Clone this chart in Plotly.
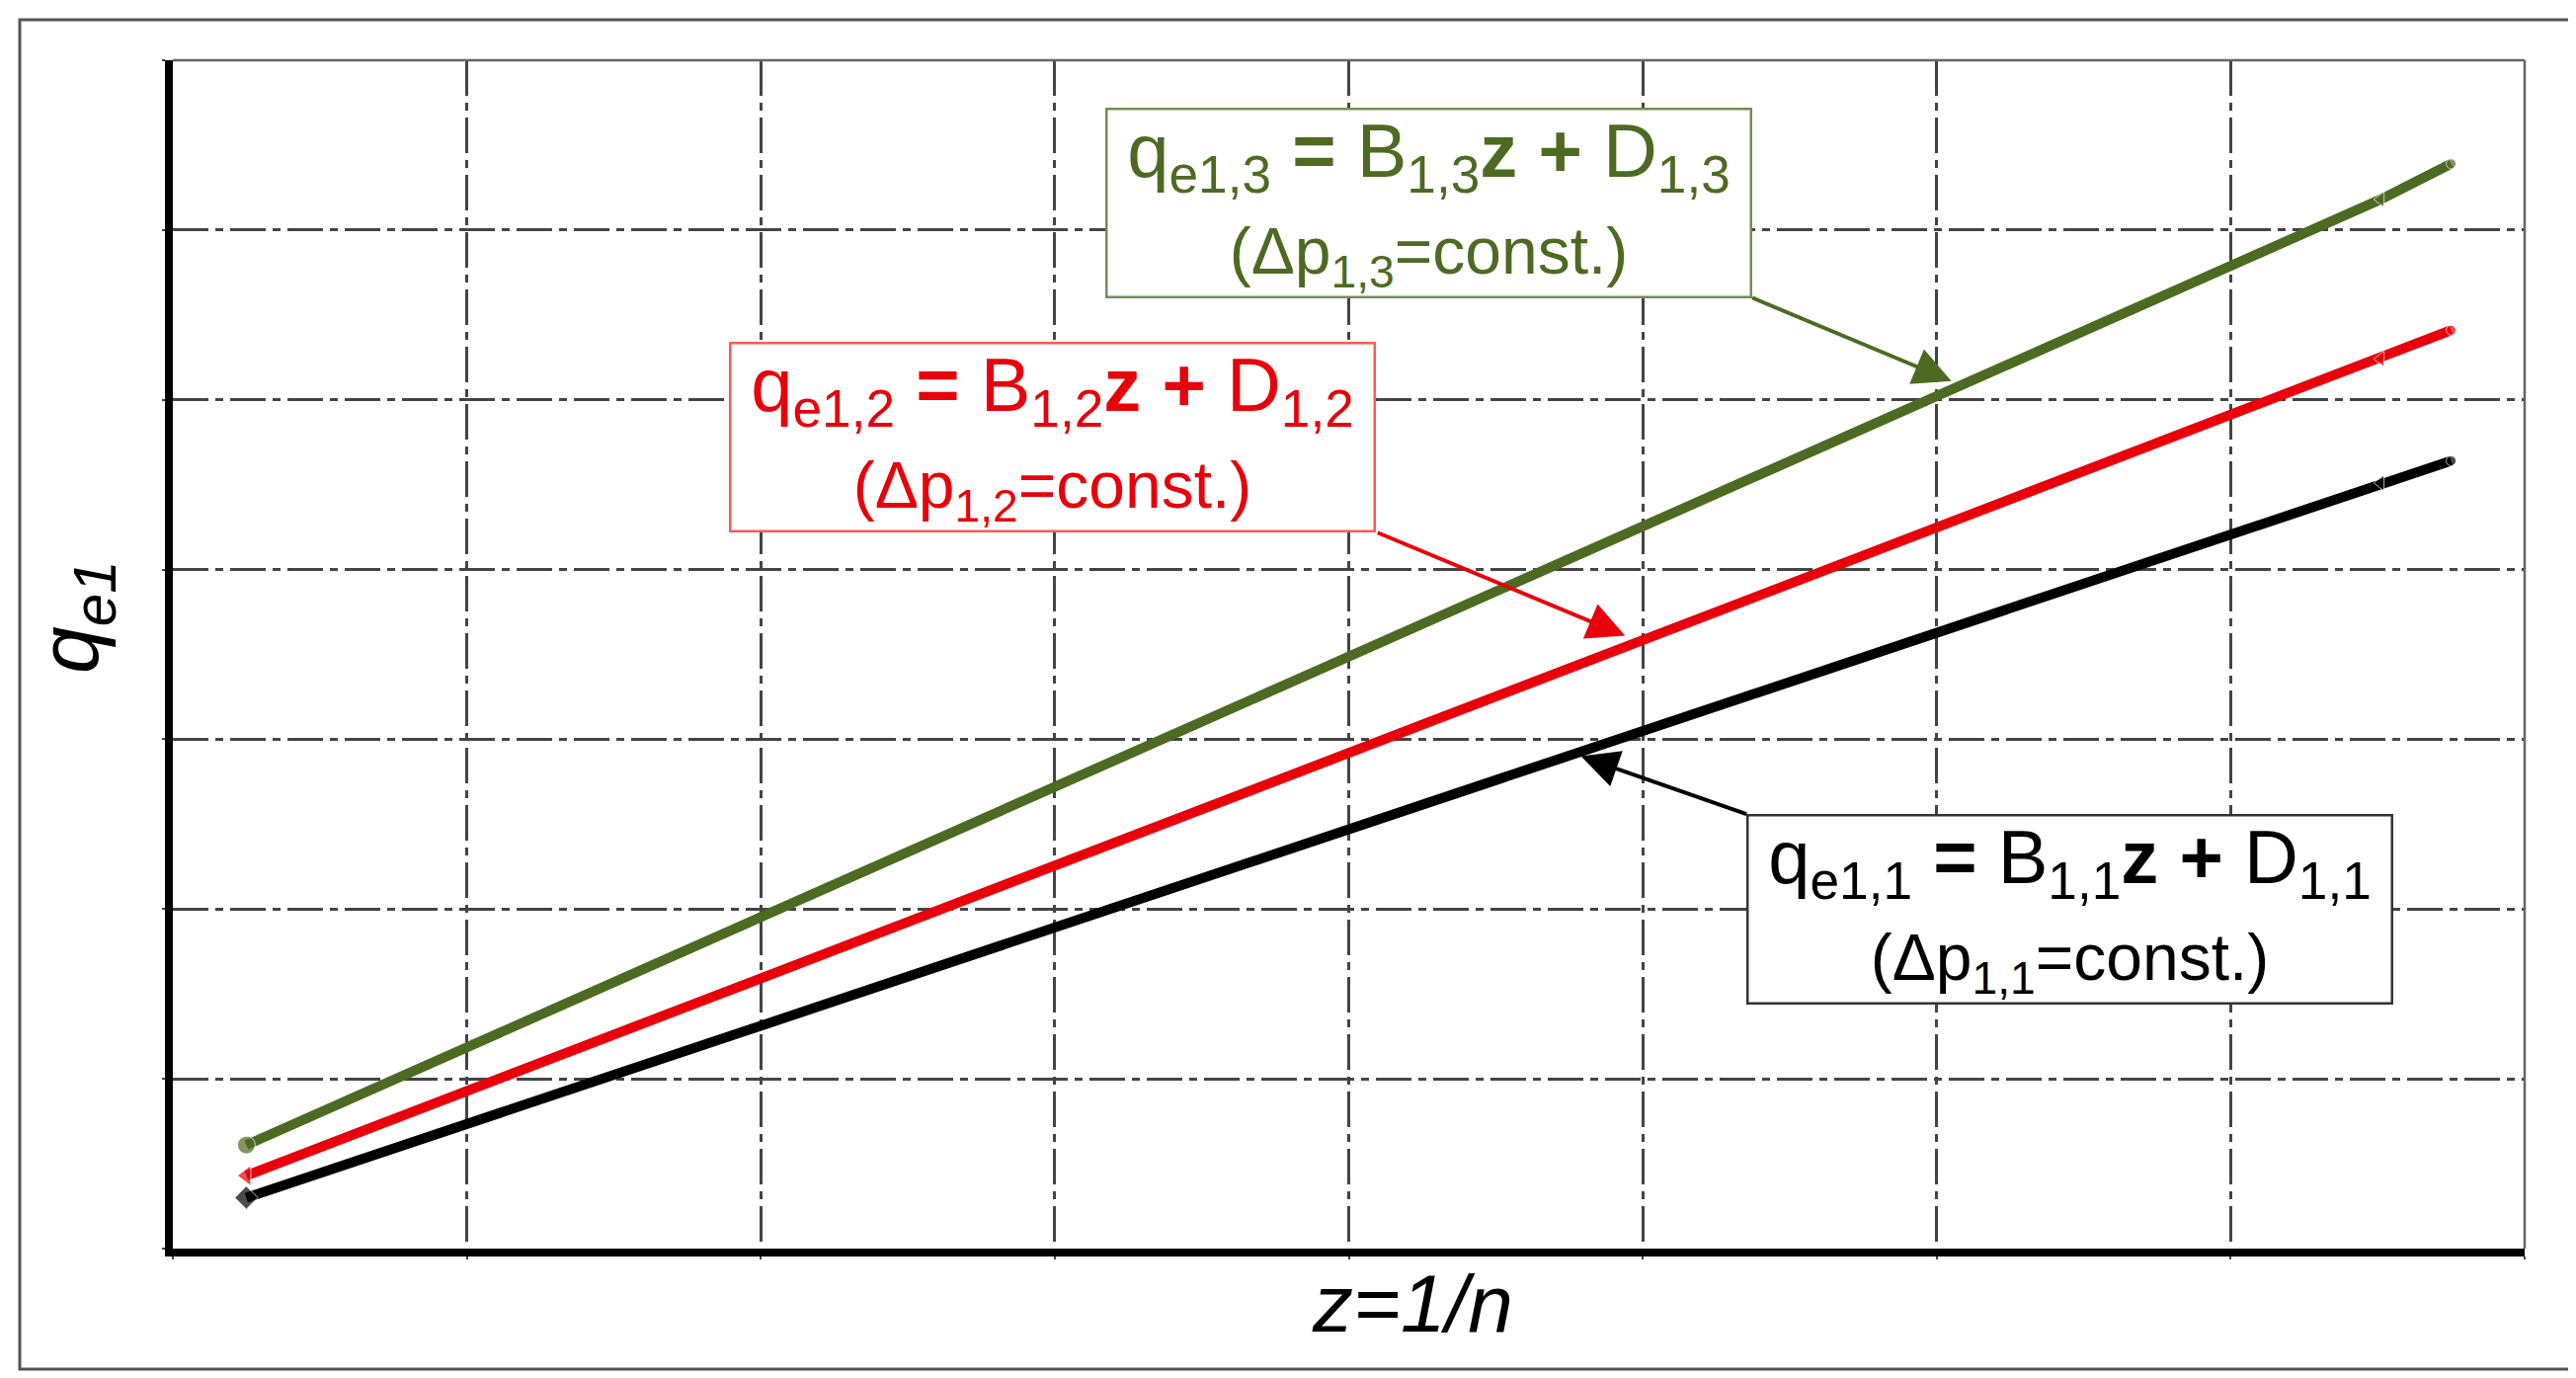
import plotly.graph_objects as go

# values, in grid units (x: 8 divisions, y: 7 divisions)
z_vals = [0.25, 7.51, 7.75]
qe11 = [0.30, 4.51, 4.64]
qe12 = [0.43, 5.24, 5.41]
qe13 = [0.61, 6.18, 6.39]

series_names = ["1,1", "1,2", "1,3"]
series_colors = ["#000000", "#e8000a", "#4d6a22"]
box_borders = ["#333333", "#ff5a5a", "#748c58"]
start_symbols = ["diamond", "triangle-left", "circle"]

# where each arrow points (data units) and where its tail sits (pixel offset)
arrow_x = [4.79, 4.94, 6.05]
arrow_y = [2.90, 3.61, 5.11]
arrow_ax = [169, -252, -203]
arrow_ay = [59, -105, -85]

# box centres in paper units
box_x = [0.8068, 0.3740, 0.5340]
box_y = [0.2855, 0.6825, 0.8799]

x_title = "z=1/n"
y_title = "q<sub>e1</sub>"

box_font = "Liberation Sans, Arial"

fig = go.Figure()

for name, yv, col, sym in zip(series_names, [qe11, qe12, qe13], series_colors, start_symbols):
    fig.add_trace(go.Scatter(
        x=z_vals, y=yv, mode="lines+markers", name=name,
        line=dict(color=col, width=10),
        marker=dict(color=col, size=[18, 14, 10], symbol=[sym, "triangle-left", "circle"]),
        showlegend=False, cliponaxis=False,
    ))

for i, name in enumerate(series_names):
    col = series_colors[i]
    txt = ("q<sub>e" + name + "</sub> <b>=</b> B<sub>" + name + "</sub><b>z +</b> D<sub>" + name + "</sub>"
           "<br><span style='font-size:66px'>(Δp<sub>" + name + "</sub>=const.)</span>")
    fig.add_annotation(
        x=box_x[i], y=box_y[i], xref="paper", yref="paper", text=txt, showarrow=False,
        font=dict(family=box_font, size=76, color=col), align="center",
        width=648, height=186, bgcolor="white", bordercolor=box_borders[i],
        borderwidth=2.5, borderpad=1, xanchor="center", yanchor="middle",
    )
    # arrow from box corner to its line
    fig.add_annotation(
        x=arrow_x[i], y=arrow_y[i], xref="x", yref="y", text="", showarrow=True,
        ax=arrow_ax[i], ay=arrow_ay[i], arrowhead=2, arrowsize=1.9, arrowwidth=4,
        arrowcolor=col,
    )

fig.add_annotation(x=0.527, y=-0.046, xref="paper", yref="paper", text="<i>" + x_title + "</i>",
                   showarrow=False, font=dict(family="Liberation Sans, Arial", size=82, color="black"),
                   xanchor="center", yanchor="middle")
fig.add_annotation(x=-0.042, y=0.532, xref="paper", yref="paper", text="<i>" + y_title + "</i>",
                   showarrow=False, textangle=-90,
                   font=dict(family="Liberation Sans, Arial", size=86, color="black"),
                   xanchor="center", yanchor="middle")

# outer frame and thin top/right edges of the plot area
fig.add_shape(type="rect", xref="paper", yref="paper", x0=-0.0651, x1=1.0197, y0=-0.1014, y1=1.0341,
              line=dict(color="#555555", width=3), layer="below")
fig.add_shape(type="line", xref="paper", yref="paper", x0=0, x1=1, y0=1, y1=1,
              line=dict(color="#666666", width=2.5))
fig.add_shape(type="line", xref="paper", yref="paper", x0=1, x1=1, y0=0, y1=1,
              line=dict(color="#666666", width=2.5))

grid = dict(showgrid=True, gridcolor="#444444", gridwidth=2.5, griddash="36px,7px,8px,7px",
            dtick=1, showticklabels=False, zeroline=False, ticks="outside", ticklen=3,
            tickwidth=2, tickcolor="#444444", showline=True, linecolor="black", linewidth=8)

fig.update_xaxes(range=[0, 8], **grid)
fig.update_yaxes(range=[0, 7], **grid)

fig.update_layout(
    width=2608, height=1395,
    margin=dict(l=167, r=60, t=53, b=139),
    plot_bgcolor="white", paper_bgcolor="white",
)

fig.write_html("out.html")
